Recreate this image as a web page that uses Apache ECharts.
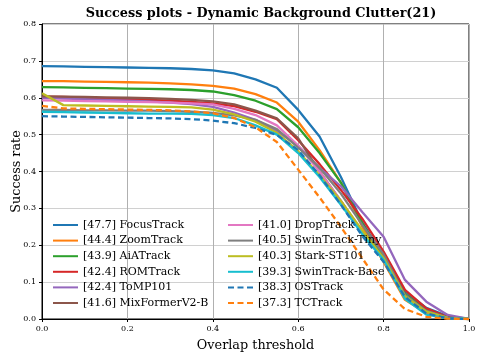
<!DOCTYPE html>
<html>
<head>
<meta charset="utf-8">
<script src="https://cdn.jsdelivr.net/npm/echarts@6/dist/echarts.min.js"></script>
<style>
  html, body { margin: 0; padding: 0; background: #fff; }
  #chart { width: 482px; height: 359px; }
</style>
</head>
<body>
<div id="chart"></div>
<script>
// overlap thresholds (x)
const thresholds = [0, 0.05, 0.1, 0.15, 0.2, 0.25, 0.3, 0.35, 0.4, 0.45, 0.5,
  0.55, 0.6, 0.65, 0.7, 0.75, 0.8, 0.85, 0.9, 0.95, 1.0]

const trackerNames = ['[47.7] FocusTrack', '[44.4] ZoomTrack', '[43.9] AiATrack', '[42.4] ROMTrack',
  '[42.4] ToMP101', '[41.6] MixFormerV2-B', '[41.0] DropTrack', '[40.5] SwinTrack-Tiny',
  '[40.3] Stark-ST101', '[39.3] SwinTrack-Base', '[38.3] OSTrack', '[37.3] TCTrack']

const focusTrack = [0.686, 0.685, 0.684, 0.683, 0.682, 0.681, 0.680, 0.678, 0.674, 0.666, 0.650,
  0.627, 0.567, 0.495, 0.385, 0.262, 0.170, 0.075, 0.030, 0.008, 0]
const zoomTrack = [0.645, 0.645, 0.644, 0.643, 0.642, 0.641, 0.639, 0.636, 0.632, 0.625, 0.610,
  0.587, 0.535, 0.458, 0.370, 0.250, 0.155, 0.052, 0.016, 0.002, 0]
const aiaTrack = [0.629, 0.628, 0.627, 0.626, 0.625, 0.624, 0.623, 0.621, 0.617, 0.607, 0.592,
  0.569, 0.520, 0.450, 0.370, 0.260, 0.165, 0.068, 0.025, 0.004, 0]
const romTrack = [0.603, 0.602, 0.600, 0.598, 0.596, 0.594, 0.592, 0.589, 0.585, 0.577, 0.562,
  0.542, 0.485, 0.420, 0.350, 0.272, 0.183, 0.079, 0.029, 0.005, 0]
const tomp101 = [0.600, 0.598, 0.596, 0.594, 0.592, 0.590, 0.587, 0.583, 0.575, 0.560, 0.540,
  0.510, 0.470, 0.410, 0.360, 0.290, 0.223, 0.106, 0.047, 0.011, 0]
const mixFormerV2 = [0.604, 0.603, 0.602, 0.601, 0.600, 0.599, 0.597, 0.594, 0.590, 0.582, 0.565,
  0.544, 0.490, 0.400, 0.320, 0.235, 0.165, 0.065, 0.022, 0.004, 0]
const dropTrack = [0.593, 0.592, 0.591, 0.590, 0.589, 0.588, 0.587, 0.585, 0.582, 0.570, 0.553,
  0.525, 0.470, 0.400, 0.320, 0.235, 0.160, 0.060, 0.020, 0.003, 0]
const swinTrackTiny = [0.567, 0.567, 0.566, 0.566, 0.565, 0.565, 0.564, 0.562, 0.559, 0.552, 0.540,
  0.515, 0.465, 0.410, 0.340, 0.255, 0.175, 0.065, 0.022, 0.004, 0]
const starkST101 = [0.612, 0.580, 0.579, 0.578, 0.577, 0.576, 0.575, 0.574, 0.568, 0.555, 0.535,
  0.505, 0.455, 0.390, 0.320, 0.240, 0.165, 0.062, 0.020, 0.003, 0]
const swinTrackBase = [0.562, 0.561, 0.560, 0.559, 0.558, 0.557, 0.557, 0.556, 0.553, 0.545, 0.525,
  0.500, 0.450, 0.385, 0.310, 0.230, 0.160, 0.055, 0.012, 0.002, 0]
const osTrack = [0.550, 0.549, 0.548, 0.547, 0.546, 0.545, 0.544, 0.542, 0.538, 0.531, 0.518,
  0.499, 0.458, 0.390, 0.310, 0.225, 0.155, 0.060, 0.015, 0.002, 0]
const tcTrack = [0.578, 0.571, 0.570, 0.569, 0.568, 0.567, 0.566, 0.563, 0.558, 0.545, 0.520,
  0.480, 0.405, 0.330, 0.250, 0.165, 0.080, 0.027, 0.006, 0.001, 0]

const trackerValues = [focusTrack, zoomTrack, aiaTrack, romTrack, tomp101, mixFormerV2,
  dropTrack, swinTrackTiny, starkST101, swinTrackBase, osTrack, tcTrack]

const yTicks = [0.0, 0.1, 0.2, 0.3, 0.4, 0.5, 0.6, 0.7, 0.8]
const xTicks = [0.0, 0.2, 0.4, 0.6, 0.8, 1.0]

const colors = ['#1f77b4', '#ff7f0e', '#2ca02c', '#d62728', '#9467bd', '#8c564b',
  '#e377c2', '#7f7f7f', '#bcbd22', '#17becf', '#1f77b4', '#ff7f0e']
const dashed = [false, false, false, false, false, false, false, false, false, false, true, true]

const font = 'DejaVu Serif'

const series = trackerNames.map((name, i) => ({
  name,
  type: 'line',
  symbol: 'none',
  animation: false,
  data: thresholds.map((t, j) => [t, trackerValues[i][j]]),
  lineStyle: { color: colors[i], width: 2.3, type: dashed[i] ? [6, 3.5] : 'solid' },
  itemStyle: { color: colors[i], opacity: 0 }
}))

const legendBase = {
  orient: 'vertical',
  padding: 0,
  itemWidth: 25,
  itemHeight: 14,
  itemGap: 1.6,
  itemStyle: { opacity: 0, borderWidth: 0 },
  textStyle: { fontFamily: font, fontSize: 11, color: '#000', lineHeight: 14 },
  selectedMode: false
}

const chart = echarts.init(document.getElementById('chart'), null, { renderer: 'canvas' })
chart.setOption({
  color: colors,
  title: {
    text: 'Success plots - Dynamic Background Clutter(21)',
    left: 256,
    textAlign: 'center',
    top: 2,
    textStyle: { fontFamily: font, fontWeight: 'bold', fontSize: 12.8, color: '#000' }
  },
  legend: [
    Object.assign({ left: 52, top: 218, data: trackerNames.slice(0, 6) }, legendBase),
    Object.assign({ left: 227, top: 218, data: trackerNames.slice(6) }, legendBase)
  ],
  grid: {
    left: 42, right: 13, top: 24, bottom: 40,
    outerBoundsMode: 'none',
    containLabel: false,
    show: true, borderColor: '#000', borderWidth: 1, backgroundColor: 'transparent'
  },
  xAxis: {
    type: 'value',
    min: 0, max: 1, interval: 0.2,
    name: 'Overlap threshold',
    nameLocation: 'middle',
    nameGap: 20,
    nameTextStyle: { fontFamily: font, fontSize: 12.8, color: '#000' },
    axisLine: { lineStyle: { color: '#000', width: 1 } },
    axisTick: { show: true, length: 3, lineStyle: { color: '#000' } },
    axisLabel: {
      fontFamily: font, fontSize: 8, color: '#000', margin: 6,
      formatter: v => xTicks.find(t => Math.abs(t - v) < 1e-9).toFixed(1)
    },
    splitLine: { show: true, lineStyle: { color: '#b0b0b0', width: 1 } }
  },
  yAxis: {
    type: 'value',
    min: 0, max: 0.8, interval: 0.1,
    name: 'Success rate',
    nameLocation: 'middle',
    nameGap: 19,
    nameMoveOverlap: false,
    nameTextStyle: { fontFamily: font, fontSize: 12.8, color: '#000' },
    axisLine: { show: true, lineStyle: { color: '#000', width: 1 } },
    axisTick: { show: true, length: 3, lineStyle: { color: '#000' } },
    axisLabel: {
      fontFamily: font, fontSize: 8, color: '#000', margin: 6,
      formatter: v => yTicks.find(t => Math.abs(t - v) < 1e-9).toFixed(1)
    },
    splitLine: { show: true, lineStyle: { color: '#d0d0d0', width: 1.2 } }
  },
  series
})
</script>
</body>
</html>
